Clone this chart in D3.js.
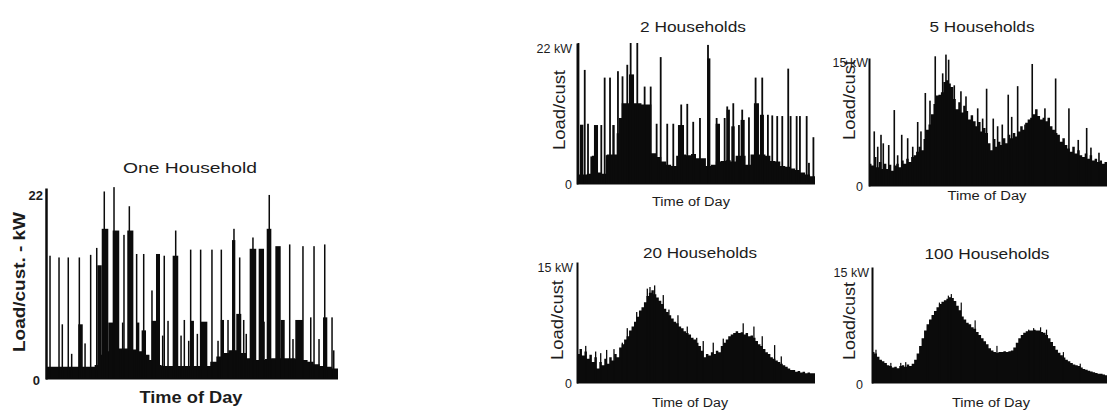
<!DOCTYPE html>
<html>
<head>
<meta charset="utf-8">
<script src="https://cdn.jsdelivr.net/npm/d3@7"></script>
<style>
  html, body { margin: 0; padding: 0; background: #fff; }
  svg { display: block; }
  text { font-family: "Liberation Sans", Arial, Helvetica, sans-serif; fill: #1c1c1c; }
</style>
</head>
<body>
<svg id="chart" width="1107" height="414"></svg>
<script>
// ---------------- labels ----------------
const panelTitles = ["One Household", "2 Households", "5 Households", "20 Households", "100 Households"];
const yTopLabels  = ["22", "22 kW", "15 kW", "15 kW", "15 kW"];
const yZeroLabel  = "0";
const yMaxValues  = [22, 22, 15, 15, 15];
const yAxisTitles = ["Load/cust.  - kW", "Load/cust", "Load/cust", "Load/cust", "Load/cust"];
const xAxisTitle  = "Time of Day";

// ---------------- one household (kW per customer) ----------------
// background load, half-hour steps from midnight
const oneBase = [1.4,1.4,1.4,1.4,1.4,1.4,1.4,1.4,
  1.6,2.8,3.2,3.4,3.5,3.5,3.4,3.2,2.8,2.2,1.6,1.5,
  1.5,1.5,1.5,1.5,1.5,1.5,1.5,
  2.0,2.6,3.0,3.3,3.3,3.0,2.4,2.2,2.2,2.3,2.4,2.4,2.4,2.4,2.3,2.2,2.0,1.7,1.5,1.4,1.2];
// sustained appliance loads: [start hour, end hour, kW]
const oneBlocks = [[2.65,3.02,6.3],[4.22,4.58,13.1],[4.58,5.12,17.3],[5.12,5.53,6.5],[5.48,6.02,17.1],
  [6.68,7.18,17.1],[7.40,7.67,6.5],[7.86,8.22,5.6],[8.69,9.23,6.7],[9.04,9.37,14.4],[10.41,10.87,14.2],
  [11.89,12.16,6.7],[12.71,13.26,6.6],[14.36,14.63,6.8],[15.29,15.56,16.0],[15.64,16.05,7.5],
  [16.74,17.28,15.0],[17.48,17.92,15.0],[18.14,18.52,17.3],[18.85,19.29,15.3],[19.29,19.62,6.8],
  [20.49,21.12,6.8],[22.77,23.12,7.1]];
// short switching peaks: [hour, kW]
const oneSpikes = [[0.33,14.2],[1.07,14.0],[1.34,6.3],[1.83,14.0],[2.11,2.9],[2.74,14.0],[3.21,4.1],
  [3.67,14.3],[4.17,15.1],[4.79,21.6],[5.59,22.1],[6.30,6.5],[6.41,16.6],[6.85,19.9],[7.45,14.4],
  [8.03,14.4],[8.71,10.2],[9.59,5.0],[9.72,14.2],[10.03,6.7],[10.66,17.1],[11.10,5.0],[11.37,6.8],
  [11.73,4.4],[11.89,14.9],[12.44,5.2],[12.71,14.9],[13.64,14.9],[14.14,4.4],[14.41,14.9],[14.96,6.8],
  [15.45,17.3],[15.92,14.0],[16.25,6.8],[16.46,5.2],[17.01,16.3],[17.92,6.6],[18.35,21.2],[20.03,15.5],
  [20.30,4.6],[21.12,15.3],[21.76,7.1],[22.03,15.3],[22.44,4.6],[22.91,15.5],[23.51,7.1],[23.65,3.3]];

// ---------------- 2 households ----------------
const twoBase = [1.5,1.5,1.6,4.4,1.8,1.6,4.6,4.6,7.9,12.6,
  12.6,12.6,12.6,12.4,12.4,4.8,4.2,3.5,3.0,2.8,
  4.4,4.6,4.5,4.7,4.0,4.0,2.8,3.0,3.5,3.6,
  3.7,3.5,4.4,4.4,3.0,4.6,4.6,4.6,4.4,3.6,
  3.5,2.8,2.7,2.4,2.2,1.8,1.5,1.2];
const twoBlocks = [[0.30,0.64,9.25],[1.71,2.12,9.2],[3.56,3.80,9.2],[4.23,4.57,10.3],[5.24,5.75,17.1],
  [10.18,10.79,9.2],[13.13,13.45,19.6],[13.98,14.42,9.4],[15.09,15.42,11.6],[15.56,15.90,9.0],
  [16.50,16.91,10.0],[17.84,18.35,12.6],[18.45,18.85,10.8]];
const twoSpikes = [[0.15,22.0],[0.78,17.8],[1.11,9.4],[1.44,4.3],[2.45,9.2],[2.79,16.6],[2.99,4.5],
  [3.33,16.6],[4.13,17.6],[4.59,16.8],[5.07,18.6],[5.41,22.0],[6.08,22.0],[6.82,15.2],[7.43,15.2],
  [8.03,9.4],[8.44,19.8],[9.10,9.4],[9.71,9.4],[10.51,12.4],[11.12,12.5],[11.72,9.7],[12.40,10.3],
  [13.21,21.7],[14.08,10.3],[14.89,10.3],[15.15,12.1],[15.76,12.6],[16.33,9.2],[16.66,11.6],[17.34,10.4],
  [18.01,16.6],[18.68,16.6],[19.25,10.8],[19.69,10.7],[20.19,10.6],[20.70,10.6],[21.30,18.0],[21.54,10.6],
  [22.15,10.6],[22.48,10.6],[23.16,10.6],[23.39,3.3],[23.84,7.3]];

// ---------------- 5 households (quarter-hour steps) ----------------
const fiveBase = [2.6,2.4,3.4,2.2,2.8,2.0,2.6,
  2.0,2.5,1.8,2.4,2.6,2.2,
  3.0,2.6,3.2,2.8,3.4,3.6,
  4.0,4.6,4.2,5.5,
  6.6,7.2,8.4,9.6,
  10.6,10.7,11.0,12.2,
  12.4,12.0,11.6,10.2,
  9.0,9.8,8.6,9.4,
  8.8,7.8,8.3,7.6,
  7.0,7.5,6.4,6.8,
  6.2,5.0,4.2,5.5,
  4.6,5.2,4.8,5.6,
  5.0,6.0,5.6,6.2,
  5.8,6.4,7.0,6.6,
  7.4,7.8,8.0,8.4,
  9.0,8.2,7.8,8.0,
  7.6,8.0,7.0,6.6,
  6.2,6.0,5.2,5.6,
  4.8,4.4,4.0,4.6,
  3.8,4.2,3.6,3.4,
  3.8,3.2,3.6,3.0,
  3.2,2.8,3.0,2.6,2.8];
const fiveSpikes = [[0.53,6.4],[0.88,4.6],[1.21,6.0],[1.44,5.0],[1.99,4.8],[2.55,8.9],[2.89,3.6],
  [3.30,6.0],[3.90,5.6],[4.41,4.6],[4.91,7.5],[5.24,6.4],[5.68,10.9],[6.15,10.0],[6.68,15.2],
  [7.43,13.2],[7.76,15.4],[8.03,14.8],[8.60,11.8],[9.27,11.1],[9.78,10.5],[10.38,7.9],[10.96,9.1],
  [11.46,7.9],[11.86,11.4],[12.53,7.9],[12.97,7.0],[13.44,7.2],[14.04,10.7],[14.39,8.1],[14.99,11.7],
  [15.73,7.2],[16.13,7.7],[16.46,14.3],[17.74,9.1],[18.82,12.6],[20.16,9.1],[21.10,5.4],[21.95,6.8],
  [22.38,4.5],[23.19,3.9]];

// ---------------- 20 households ----------------
const twentyBase = [3.6,4.2,3.4,3.9,3.0,3.5,2.6,3.2,
  1.8,2.6,2.2,3.0,2.4,3.2,2.8,3.6,
  3.2,4.4,4.8,5.4,5.8,6.5,7.0,7.6,
  8.2,9.0,9.4,10.0,10.8,11.2,11.5,11.0,
  10.6,10.2,9.8,9.2,8.8,8.4,8.0,7.6,
  7.4,7.0,6.8,6.4,6.2,6.0,5.6,5.4,
  5.0,4.6,4.0,3.2,3.6,3.4,3.8,3.6,
  4.0,3.8,4.6,5.0,5.4,5.8,6.0,6.2,
  6.4,6.2,6.3,6.0,6.2,5.8,5.9,5.6,
  5.2,4.8,4.6,4.2,3.8,3.6,3.2,3.0,
  2.8,2.6,2.4,2.2,2.0,1.8,1.6,1.6,
  1.4,1.5,1.3,1.4,1.2,1.3,1.2,1.2];
const twentySpikes = [[0.88,4.6],[1.88,3.9],[2.39,3.7],[2.99,4.1],[3.73,4.2],[4.57,5.0],[5.07,6.8],
  [6.02,8.8],[7.09,11.7],[7.36,11.9],[7.83,12.1],[8.70,10.9],[9.27,9.1],[10.18,8.4],[11.12,7.0],
  [12.07,5.6],[12.73,5.2],[13.74,5.0],[14.75,5.5],[16.76,7.4],[17.84,7.0],[18.68,5.8],[19.93,4.7],
  [20.60,3.3]];

// ---------------- 100 households ----------------
const hundredBase = [4.0,3.8,3.4,3.0,2.8,2.6,
  2.3,2.2,2.0,2.1,1.9,2.2,
  2.3,2.1,2.4,2.2,2.5,3.0,
  3.8,4.8,5.8,6.8,7.6,8.2,
  8.8,9.3,9.8,10.2,10.5,10.7,
  10.9,11.1,11.0,10.6,10.0,9.4,
  8.6,8.2,7.8,7.6,7.2,7.0,
  6.6,6.2,5.8,5.4,5.0,4.5,
  4.2,4.0,3.9,4.0,4.0,4.1,
  4.0,4.1,4.2,4.6,5.2,5.8,
  6.2,6.5,6.7,6.8,6.8,6.9,
  6.8,6.8,6.6,6.5,6.2,5.8,
  5.3,4.8,4.3,3.9,3.6,3.3,
  3.0,2.8,2.6,2.4,2.3,2.2,
  2.0,1.8,1.7,1.6,1.5,1.4,
  1.3,1.2,1.2,1.1,1.0,1.0];
const hundredSpikes = [[0.4,4.3],[1.9,2.6],[2.9,2.6],[3.4,2.7],[5.6,7.3],[6.8,10.4],[7.7,11.3],
  [8.0,11.5],[9.0,10.4],[10.4,8.1],[12.6,4.8],[14.6,4.4],[15.8,6.9],[16.3,7.1],[17.0,7.2],
  [17.6,6.9],[19.3,4.0],[21.0,2.5]];

// ---------------- layout ----------------
const ink = "#0b0b0b";
const panels = [
  { base: oneBase, step: 0.5, blocks: oneBlocks, spikes: oneSpikes,
    x0: 46, x1: 338, y0: 379, y1: 188, axisW: 2.5, spikeW: 1.5, bold: true, tickSize: 13,
    topDy: "0.9em", topPad: 3, zeroPad: 6, zeroDy: "0.42em",
    title: [190, 173, 15, 134], yTitle: [25, 282, 16, 140], xTitle: [191, 403, 16, 103] },
  { base: twoBase, step: 0.5, blocks: twoBlocks, spikes: twoSpikes,
    x0: 577, x1: 815, y0: 184, y1: 43, axisW: 2, spikeW: 1.8, bold: false, tickSize: 12.5,
    topDy: "0.78em", topPad: 5, zeroPad: 5, zeroDy: "0.34em",
    title: [693, 32, 15, 106], yTitle: [565, 110, 16, 80], xTitle: [691, 206, 12.5, 78] },
  { base: fiveBase, step: 0.25, blocks: [], spikes: fiveSpikes,
    x0: 869, x1: 1107, y0: 186, y1: 58, axisW: 2, spikeW: 1.6, bold: false, tickSize: 12.5,
    topDy: "0.7em", topPad: 1, zeroPad: 6, zeroDy: "0.36em",
    title: [982, 32, 15, 105], yTitle: [855, 100, 16, 80], xTitle: [987, 200, 12.5, 79] },
  { base: twentyBase, step: 0.25, blocks: [], spikes: twentySpikes,
    x0: 577, x1: 815, y0: 383, y1: 262, axisW: 2, spikeW: 1.3, bold: false, tickSize: 12.5,
    topDy: "0.74em", topPad: 4, zeroPad: 5, zeroDy: "0.36em",
    title: [700, 258, 15, 114], yTitle: [563, 320, 16, 80], xTitle: [690, 407, 12.5, 76] },
  { base: hundredBase, step: 0.25, blocks: [], spikes: hundredSpikes,
    x0: 872, x1: 1110, y0: 383, y1: 267, axisW: 2, spikeW: 1.2, bold: false, tickSize: 12.5,
    topDy: "0.75em", topPad: 3, zeroPad: 9, zeroDy: "0.45em",
    title: [987, 259, 15, 125], yTitle: [855, 321, 16, 78], xTitle: [991, 407, 12.5, 78] }
];

const svg = d3.select("#chart");

function label(g, txt, pos, opts) {
  const [x, y, size, len] = pos;
  const t = g.append("text")
    .attr("font-size", size)
    .attr("font-weight", opts.bold ? "bold" : "normal")
    .attr("text-anchor", "middle")
    .attr("textLength", len)
    .attr("lengthAdjust", "spacingAndGlyphs")
    .text(txt);
  if (opts.rotate) t.attr("transform", `translate(${x},${y}) rotate(-90)`);
  else t.attr("x", x).attr("y", y);
  return t;
}

panels.forEach((p, k) => {
  const g = svg.append("g").attr("class", "panel");
  const x = d3.scaleLinear().domain([0, 24]).range([p.x0, p.x1]);
  const y = d3.scaleLinear().domain([0, yMaxValues[k]]).range([p.y0, p.y1]);

  // background load as a step area
  const pts = p.base.map((v, i) => [i * p.step, v]);
  pts.push([24, p.base[p.base.length - 1]]);
  const area = d3.area()
    .x(d => x(d[0])).y0(y(0)).y1(d => y(d[1]))
    .curve(d3.curveStepAfter);
  g.append("path").datum(pts).attr("d", area).attr("fill", ink);

  // sustained loads
  g.selectAll("rect.block").data(p.blocks).join("rect")
    .attr("class", "block")
    .attr("x", d => x(d[0]))
    .attr("width", d => x(d[1]) - x(d[0]))
    .attr("y", d => y(d[2]))
    .attr("height", d => y(0) - y(d[2]))
    .attr("fill", ink);

  // short peaks
  g.selectAll("rect.spike").data(p.spikes).join("rect")
    .attr("class", "spike")
    .attr("x", d => x(d[0]) - p.spikeW / 2)
    .attr("width", p.spikeW)
    .attr("y", d => y(d[1]))
    .attr("height", d => y(0) - y(d[1]))
    .attr("fill", ink);

  // baseline
  g.append("line")
    .attr("x1", x(0)).attr("x2", x(24))
    .attr("y1", y(0)).attr("y2", y(0))
    .attr("stroke", ink).attr("stroke-width", 1);

  // y axis with its two end labels
  const axis = d3.axisLeft(y)
    .tickValues([0, yMaxValues[k]])
    .tickSize(0).tickSizeOuter(0)
    .tickFormat(d => d === 0 ? yZeroLabel : yTopLabels[k]);
  const ag = g.append("g").attr("transform", `translate(${p.x0},0)`).call(axis);
  ag.select(".domain").attr("stroke", ink).attr("stroke-width", p.axisW);
  ag.selectAll(".tick text")
    .attr("font-family", '"Liberation Sans", Arial, sans-serif')
    .attr("font-size", p.tickSize)
    .attr("font-weight", p.bold ? "bold" : "normal")
    .attr("fill", "#1c1c1c")
    .attr("x", d => d === 0 ? -p.zeroPad : -p.topPad)
    .attr("dy", d => d === 0 ? p.zeroDy : p.topDy);

  // titles
  label(g, panelTitles[k], p.title, { bold: false });
  label(g, yAxisTitles[k], p.yTitle, { bold: p.bold, rotate: true });
  label(g, xAxisTitle, p.xTitle, { bold: p.bold });
});
</script>
</body>
</html>
